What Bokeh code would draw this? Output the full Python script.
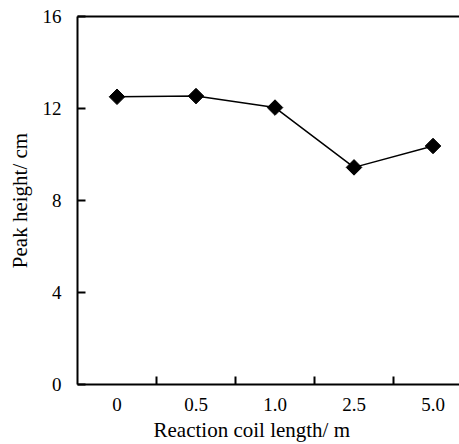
from bokeh.plotting import figure
from bokeh.models import Range1d, FixedTicker, LinearAxis, Title
from bokeh.embed import file_html
from bokeh.resources import INLINE
import math

categories = ["0", "0.5", "1.0", "2.5", "5.0"]
peak_height = [12.51, 12.54, 12.04, 9.44, 10.37]
y_ticks = [0, 4, 8, 12, 16]

xs = list(range(len(categories)))
FONT = "Liberation Serif"

p = figure(width=459, height=444, output_backend="svg", toolbar_location=None,
           x_range=Range1d(-0.5, 4.335), y_range=Range1d(0, 16),
           x_axis_type=None, y_axis_type=None,
           min_border_left=77, min_border_right=0, min_border_top=16, min_border_bottom=0)
p.outline_line_color = None
p.border_fill_color = "white"
p.grid.visible = False
p.background_fill_color = "white"

# x axis
xa = LinearAxis(ticker=FixedTicker(ticks=xs, minor_ticks=[0.5, 1.5, 2.5, 3.5]))
xa.major_label_overrides = {i: c for i, c in zip(xs, categories)}
xa.major_tick_in = 0
xa.major_tick_out = 0
xa.minor_tick_in = 8
xa.minor_tick_out = 0
xa.minor_tick_line_width = 2
xa.minor_tick_line_color = "black"
xa.axis_line_width = 2
xa.axis_line_color = "black"
xa.major_label_text_font = FONT
xa.major_label_text_font_size = "19px"
xa.major_label_text_color = "black"
xa.major_label_standoff = 13
p.add_layout(xa, "below")

# y axis
ya = LinearAxis(ticker=FixedTicker(ticks=y_ticks), axis_label="Peak height/ cm")
ya.major_tick_in = 8
ya.major_tick_out = 0
ya.minor_tick_in = 0
ya.minor_tick_out = 0
ya.major_tick_line_width = 2
ya.major_tick_line_color = "black"
ya.axis_line_width = 2
ya.axis_line_color = "black"
ya.major_label_text_font = FONT
ya.major_label_text_font_size = "19px"
ya.major_label_text_color = "black"
ya.major_label_standoff = 16
ya.axis_label_text_font = FONT
ya.axis_label_text_font_size = "21px"
ya.axis_label_text_font_style = "normal"
ya.axis_label_text_color = "black"
ya.axis_label_standoff = 8
p.add_layout(ya, "left")

# top border
ta = LinearAxis(ticker=FixedTicker(ticks=[]))
ta.major_tick_in = 0
ta.major_tick_out = 0
ta.minor_tick_in = 0
ta.minor_tick_out = 0
ta.axis_line_width = 2
ta.axis_line_color = "black"
p.add_layout(ta, "above")

# x axis title
t = Title(text="Reaction coil length/ m", align="left", offset=76,
          text_font=FONT, text_font_size="21px", text_font_style="normal",
          text_color="black", standoff=5)
p.add_layout(t, "below")

p.line(xs, peak_height, line_color="black", line_width=1.5)
p.scatter(xs, peak_height, marker="square", size=11, angle=math.pi / 4,
          fill_color="black", line_color="black")

open("out.html", "w").write(file_html(p, INLINE))
